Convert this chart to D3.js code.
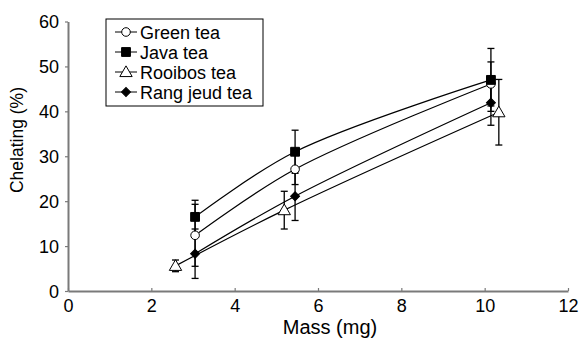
<!DOCTYPE html>
<html>
<head>
<meta charset="utf-8">
<script src="https://cdn.jsdelivr.net/npm/d3@7"></script>
<style>
  body { margin: 0; background: #fff; }
  svg { display: block; font-family: "Liberation Sans", Arial, sans-serif; }
</style>
</head>
<body>
<div id="container"></div>
<script>
// data
const seriesNames = ["Green tea", "Java tea", "Rooibos tea", "Rang jeud tea"];

const greenMass = [3.05, 5.45, 10.15];
const greenChel = [12.4, 27.1, 46.1];
const greenErr = [6.9, 3.4, 4.9];

const javaMass = [3.05, 5.45, 10.15];
const javaChel = [16.5, 31.0, 47.0];
const javaErr = [3.7, 4.8, 7.0];

const rooibosMass = [2.58, 5.19, 10.34];
const rooibosChel = [5.6, 18.0, 39.8];
const rooibosErr = [1.3, 4.2, 7.3];

const rangMass = [3.05, 5.45, 10.15];
const rangChel = [8.3, 21.1, 41.9];
const rangErr = [5.5, 5.4, 5.0];

const xTicks = [0, 2, 4, 6, 8, 10, 12];
const yTicks = [0, 10, 20, 30, 40, 50, 60];

const w = 583;
const h = 339;

const toPoints = (xs, ys, es) => xs.map((x, i) => ({ x: x, y: ys[i], e: es[i] }));

const series = [
    { name: seriesNames[0], shape: "circle", fill: "#fff", pts: toPoints(greenMass, greenChel, greenErr) },
    { name: seriesNames[1], shape: "square", fill: "#000", pts: toPoints(javaMass, javaChel, javaErr) },
    { name: seriesNames[2], shape: "triangle", fill: "#fff", pts: toPoints(rooibosMass, rooibosChel, rooibosErr) },
    { name: seriesNames[3], shape: "diamond", fill: "#000", pts: toPoints(rangMass, rangChel, rangErr) }
];

const svg = d3.select("#container").append("svg")
    .attr("width", w)
    .attr("height", h);

const xScale = d3.scaleLinear().domain([0, 12]).range([68, 568]);
const yScale = d3.scaleLinear().domain([0, 60]).range([291, 21.5]);

const axisColor = "#7a7a7a";

// axes
const xAxis = svg.append("g")
    .attr("transform", "translate(0," + yScale(0) + ")")
    .call(d3.axisBottom(xScale).tickValues(xTicks).tickSizeInner(-3).tickSizeOuter(0).tickPadding(5));
const yAxis = svg.append("g")
    .attr("transform", "translate(" + xScale(0) + ",0)")
    .call(d3.axisLeft(yScale).tickValues(yTicks).tickSizeInner(3).tickSizeOuter(0).tickPadding(6));

[xAxis, yAxis].forEach((g) => {
    g.select(".domain").attr("stroke", axisColor).attr("stroke-width", 2);
    g.selectAll(".tick line").attr("stroke", axisColor).attr("stroke-width", 1.2);
    g.selectAll(".tick text")
        .attr("fill", "#000")
        .style("font-size", "18px")
        .style("font-family", "'Liberation Sans', Arial, sans-serif");
});
xAxis.selectAll(".tick text").attr("dy", "0.95em").attr("y", 4);
yAxis.selectAll(".tick text").attr("dy", "0.36em");

svg.append("text")
    .attr("x", 330)
    .attr("y", 334)
    .attr("text-anchor", "middle")
    .style("font-size", "20px")
    .text("Mass (mg)");

svg.append("text")
    .attr("transform", "translate(23,140) rotate(-90)")
    .attr("text-anchor", "middle")
    .style("font-size", "17.5px")
    .text("Chelating (%)");

// curves
const lineMaker = d3.line()
    .x((d) => xScale(d.x))
    .y((d) => yScale(d.y))
    .curve(d3.curveCatmullRom.alpha(0.5));

svg.selectAll(".curve").data(series)
    .enter()
    .append("path")
    .attr("class", "curve")
    .attr("d", (d) => lineMaker(d.pts))
    .attr("fill", "none")
    .attr("stroke", "#000")
    .attr("stroke-width", 1.2);

// error bars
const capW = 3.5;
series.forEach((s) => {
    const g = svg.append("g").attr("class", "errs");
    s.pts.forEach((p) => {
        const cx = xScale(p.x);
        const top = yScale(p.y + p.e);
        const bot = yScale(p.y - p.e);
        g.append("line").attr("x1", cx).attr("x2", cx).attr("y1", top).attr("y2", bot)
            .attr("stroke", "#000").attr("stroke-width", 1.3);
        g.append("line").attr("x1", cx - capW).attr("x2", cx + capW).attr("y1", top).attr("y2", top)
            .attr("stroke", "#000").attr("stroke-width", 1.3);
        g.append("line").attr("x1", cx - capW).attr("x2", cx + capW).attr("y1", bot).attr("y2", bot)
            .attr("stroke", "#000").attr("stroke-width", 1.3);
    });
});

const symbolFor = {
    circle: d3.symbol().type(d3.symbolCircle).size(58),
    square: d3.symbol().type(d3.symbolSquare).size(78),
    triangle: d3.symbol().type(d3.symbolTriangle).size(66),
    diamond: d3.symbol().type(d3.symbolSquare).size(40)
};

const drawMarker = (g, s, x, y) => {
    let tr = "translate(" + x + "," + (s.shape === "triangle" ? y + 1 : y) + ")";
    if (s.shape === "diamond") tr += " rotate(45)";
    g.append("path")
        .attr("d", symbolFor[s.shape]())
        .attr("transform", tr)
        .attr("fill", s.fill)
        .attr("stroke", "#000")
        .attr("stroke-width", 1);
};

series.forEach((s) => {
    const g = svg.append("g").attr("class", "markers");
    s.pts.forEach((p) => drawMarker(g, s, xScale(p.x), yScale(p.y)));
});

// legend
const legend = svg.append("g").attr("class", "legend");
legend.append("rect")
    .attr("x", 106)
    .attr("y", 19)
    .attr("width", 157)
    .attr("height", 87)
    .attr("fill", "#fff")
    .attr("stroke", "#000")
    .attr("stroke-width", 1);

series.forEach((s, i) => {
    const ly = 32 + i * 20;
    const g = legend.append("g");
    g.append("line").attr("x1", 115).attr("x2", 137).attr("y1", ly).attr("y2", ly)
        .attr("stroke", "#000").attr("stroke-width", 1);
    drawMarker(g, s, 126, ly);
    g.append("text")
        .attr("x", 140)
        .attr("y", ly + 6.5)
        .style("font-size", "18px")
        .text(s.name);
});
</script>
</body>
</html>
